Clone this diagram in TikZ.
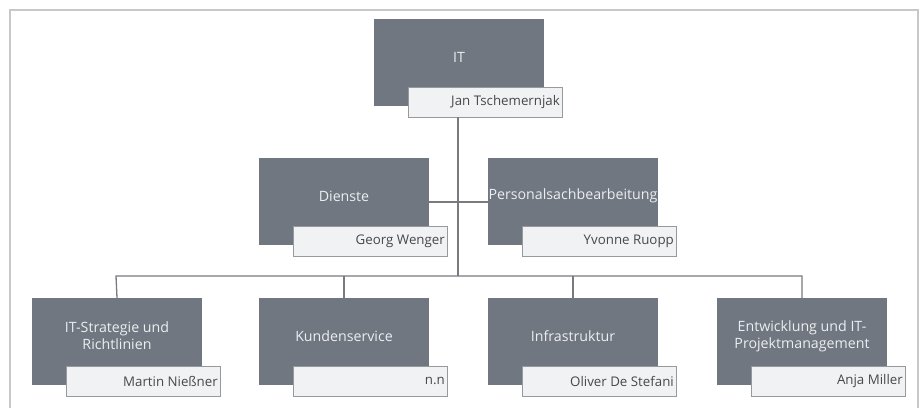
\documentclass[tikz,border=0pt]{standalone}
\usepackage{fontspec}
\setmainfont{Open Sans}
\definecolor{unitc}{RGB}{112,119,129}
\definecolor{namefill}{RGB}{241,242,244}
\definecolor{namedraw}{RGB}{150,153,158}
\definecolor{linec}{RGB}{120,122,126}
\definecolor{framec}{RGB}{200,200,200}
\definecolor{titlec}{RGB}{236,238,240}
\definecolor{personc}{RGB}{70,72,76}
\tikzset{
  unitbox/.style={fill=unitc, draw=none, minimum width=170pt, minimum height=87pt, inner sep=0pt},
  namebox/.style={fill=namefill, draw=namedraw, line width=0.9pt, minimum width=154pt, minimum height=30pt, inner sep=0pt},
  titletext/.style={text=titlec, font=\fontsize{14.2}{17}\selectfont, align=center, inner sep=0pt},
  persontext/.style={text=personc, font=\fontsize{13.3}{16}\selectfont, anchor=east, inner sep=0pt},
  conn/.style={draw=linec, line width=1.3pt}
}
\newcommand{\orgunit}[5]{%
  \node[unitbox] (#1) at (#2+85,#3+43.5) {};
  \node[titletext] (#1t) at (#2+85,#3+38) {#4};
  \node[namebox] (#1n) at (#2+111,#3+83) {};
  \node[persontext] (#1p) at (#2+186,#3+83) {#5};
}
\begin{document}
\begin{tikzpicture}[x=1pt,y=-1pt]
\useasboundingbox (0,0) rectangle (923,408);
\draw[framec, line width=2pt] (10,408) -- (10,10) -- (918,10) -- (918,408);
\coordinate (bar) at (458,276);
\coordinate (barL) at (116,276);
\coordinate (barR) at (802,276);
\orgunit{it}{374}{19}{IT}{Jan Tschemernjak}
\orgunit{di}{259}{158}{Dienste}{Georg Wenger}
\orgunit{pe}{488}{158}{Personalsachbearbeitung}{Yvonne Ruopp}
\orgunit{st}{32}{298}{IT-Strategie und\\Richtlinien}{Martin Nießner}
\orgunit{ku}{259}{298}{Kundenservice}{n.n}
\orgunit{in}{488}{298}{Infrastruktur}{Oliver De Stefani}
\orgunit{en}{717}{298}{Entwicklung und IT-\\Projektmanagement}{Anja Miller}
\draw[conn] (itn.south -| bar) -- (bar);
\draw[conn] (di.east |- 0,202) -- (pe.west |- 0,202);
\draw[conn] (st.north) -- (barL) -- (barR) -- (en.north);
\draw[conn] (ku.north) -- (ku.north |- bar);
\draw[conn] (in.north) -- (in.north |- bar);
\end{tikzpicture}
\end{document}
